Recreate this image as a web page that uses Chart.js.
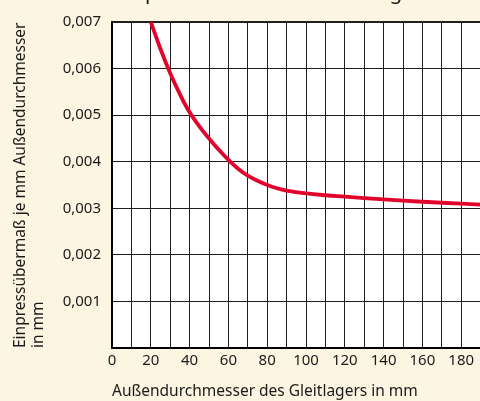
<!DOCTYPE html>
<html>
<head>
<meta charset="utf-8">
<script src="https://cdn.jsdelivr.net/npm/chart.js@4"></script>
<style>
  html, body { margin: 0; padding: 0; background: #FDF5E1; overflow: hidden; width: 480px; height: 401px; }
  #wrap { position: absolute; left: 0; top: 0; width: 504px; height: 401px; }
</style>
</head>
<body>
<div id="wrap"><canvas id="c" width="504" height="401"></canvas></div>
<script>
// Data
const titleText = "Einpressübermaß für Gleitlager";
const xTitle = "Außendurchmesser des Gleitlagers in mm";
const yTitle = ["Einpressübermaß je mm Außendurchmesser", "in mm"];
const diameters = [20, 25, 30, 35, 40, 45, 50, 55, 60, 65, 70, 75, 80, 85, 90, 100, 110, 120, 140, 160, 180, 200];
const overlap = [0.00700, 0.00642, 0.00590, 0.00545, 0.00506, 0.00476, 0.00450, 0.00426, 0.00404, 0.00385, 0.00370, 0.00359, 0.00350, 0.00343, 0.00338, 0.00332, 0.00328, 0.00325, 0.00319, 0.00314, 0.00310, 0.00306];
const xLabelValues = [0, 20, 40, 60, 80, 100, 120, 140, 160, 180];

const FONT = "'Noto Sans', sans-serif";
const points = diameters.map((d, i) => ({ x: d, y: overlap[i] }));

const whiteArea = {
  id: 'whiteArea',
  beforeDraw(chart) {
    const { ctx, chartArea: a } = chart;
    ctx.save();
    ctx.fillStyle = '#ffffff';
    ctx.fillRect(a.left, a.top, a.right - a.left, a.bottom - a.top);
    ctx.restore();
  }
};

const clippedTitle = {
  id: 'clippedTitle',
  afterDraw(chart) {
    const ctx = chart.ctx;
    ctx.save();
    ctx.font = "20px " + FONT;
    const pStart = ctx.measureText("Ein").width;
    const gStart = ctx.measureText("Einpressübermaß für Gleitla").width;
    const gW = ctx.measureText("g").width;
    const d = (gStart + gW / 2) - (pStart + 0.09 * 20);
    const s = 20 * (396 - 147) / d;
    ctx.font = s + "px " + FONT;
    const k = s / 20;
    const x0 = 147 - (pStart + 0.09 * 20) * k;
    ctx.fillStyle = '#1a1a1a';
    ctx.textBaseline = 'alphabetic';
    ctx.textAlign = 'left';
    ctx.fillText(titleText, x0, -1.5);
    ctx.restore();
  }
};

new Chart(document.getElementById('c'), {
  type: 'line',
  data: {
    datasets: [{
      data: points,
      borderColor: '#E2032C',
      borderWidth: 3.8,
      pointRadius: 0,
      fill: false,
      tension: 0.4
    }]
  },
  options: {
    responsive: false,
    animation: false,
    layout: { padding: { top: 22, left: 0, right: 0, bottom: 0 } },
    plugins: { legend: { display: false }, tooltip: { enabled: false } },
    scales: {
      x: {
        type: 'linear',
        min: 0, max: 200,
        afterFit(scale) { scale.height = 53; },
        ticks: {
          stepSize: 10,
          autoSkip: false,
          maxRotation: 0,
          padding: 4,
          color: '#1a1a1a',
          font: { family: FONT, size: 15 },
          callback: (v) => xLabelValues.includes(v) ? String(v) : ''
        },
        grid: { color: '#1f1f1f', lineWidth: 1, drawTicks: false },
        border: { color: '#000000', width: 2 },
        title: {
          display: true, text: xTitle, align: 'start',
          color: '#1a1a1a', font: { family: FONT, size: 15.5 },
          padding: { top: 2, bottom: 0 }
        }
      },
      y: {
        min: 0, max: 0.007,
        afterFit(scale) { scale.width = 112; },
        ticks: {
          stepSize: 0.001,
          padding: 11,
          color: '#1a1a1a',
          font: { family: FONT, size: 15 },
          callback: (v) => Math.abs(v) < 1e-9 ? '' : v.toFixed(3).replace('.', ',')
        },
        grid: {
          color: '#1f1f1f', drawTicks: false,
          lineWidth: (c) => (c.tick && Math.abs(c.tick.value - 0.007) < 1e-9) ? 2 : 1
        },
        border: { color: '#000000', width: 2 },
        title: {
          display: true, text: yTitle, align: 'start',
          color: '#1a1a1a', font: { family: FONT, size: 15.5 },
          padding: { top: 11, bottom: 0 }
        }
      }
    }
  },
  plugins: [whiteArea, clippedTitle]
});
</script>
</body>
</html>
